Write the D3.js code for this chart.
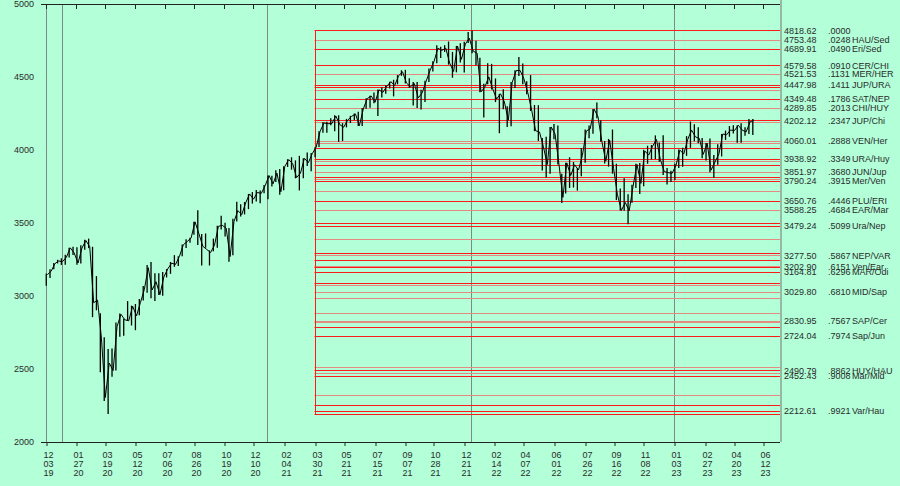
<!DOCTYPE html>
<html><head><meta charset="utf-8">
<script src="https://cdn.jsdelivr.net/npm/d3@7"></script>
<style>
html,body{margin:0;padding:0;background:#b2ffd8;}
svg{display:block;font-family:Arial,"Liberation Sans",sans-serif;}
</style></head><body>
<svg id="chart" width="900" height="486"></svg>
<script>
// ---------- DATA ----------
// weekly S&P 500 (week ending Fridays, 2019-12-06 .. 2023-05-26)
const firstWeek = "2019-12-06", lastWeek = "2023-05-26";
const weekHigh = [
3154,3183,3226,3248,
3258,3282,3330,3338,3334,3347,3385,3393,3337,3136,2882,2718,2637,2641,2818,2880,2844,2965,2934,2945,2980,3068,3212,3233,3155,3155,3165,3184,3233,3280,3272,3352,3388,3399,3509,3588,3425,3428,3312,3393,3482,3550,3502,3466,3529,3646,3628,3644,3699,3712,3726,3723,3760,
3826,3823,3861,3870,3888,3937,3950,3929,3960,3944,3983,3979,4018,4129,4192,4194,4218,4238,4238,4184,4213,4234,4250,4262,4287,4355,4372,4394,4415,4430,4441,4468,4481,4513,4546,4549,4492,4466,4465,4412,4475,4559,4608,4718,4708,4718,4743,4672,4713,4732,4741,4808,
4819,4749,4632,4453,4595,4590,4490,4385,4416,4299,4465,4546,4637,4593,4471,4513,4308,4307,4082,4090,4158,4178,4168,3838,3913,3950,3918,3875,4013,4141,4167,4280,4325,4204,4062,4076,4140,3906,3736,3806,3697,3762,3905,3911,4001,4029,4034,4100,4052,4101,3877,3858,
3906,4003,4015,4095,4195,4176,4156,4082,4048,4079,3965,4040,4110,4133,4164,4170,4170,4184,4155,4213,4213];
const weekLow = [
3070,3124,3183,3223,
3213,3214,3263,3281,3214,3223,3316,3328,2855,2902,2478,2280,2192,2447,2489,2721,2727,2830,2798,2766,2868,2969,3022,2984,2965,3006,3001,3127,3152,3200,3205,3272,3329,3364,3420,3349,3209,3331,3209,3306,3330,3456,3407,3234,3279,3511,3545,3559,3595,3633,3647,3636,3703,
3663,3750,3781,3694,3725,3884,3865,3806,3723,3806,3891,3854,3951,4020,4118,4118,4169,4128,4056,4062,4155,4185,4206,4165,4164,4282,4289,4321,4233,4360,4385,4422,4367,4450,4508,4456,4427,4305,4288,4278,4329,4465,4537,4595,4630,4672,4585,4495,4532,4600,4531,4733,
4662,4582,4395,4223,4451,4415,4328,4115,4279,4157,4162,4425,4507,4450,4381,4267,4129,4062,3859,3811,3838,4074,3900,3637,3702,3740,3743,3722,3820,3913,4080,4111,4218,4057,3907,3886,3838,3657,3585,3584,3492,3638,3740,3698,3751,3906,3936,3938,3919,3828,3764,3780,
3794,3877,3885,3960,4015,4060,4047,3943,3928,3847,3808,3899,3956,4069,4091,4113,4049,4049,4098,4110,4103];
const weekClose = [
3146,3169,3221,3240,
3235,3265,3330,3295,3226,3328,3380,3338,2954,2972,2711,2305,2541,2489,2790,2875,2837,2830,2930,2864,2955,3044,3194,3041,3098,3009,3130,3185,3225,3216,3271,3351,3373,3397,3508,3427,3341,3319,3298,3348,3477,3484,3465,3270,3510,3585,3558,3638,3699,3663,3709,3703,3756,
3825,3768,3841,3714,3887,3934,3907,3811,3842,3943,3913,3975,4020,4129,4185,4180,4181,4233,4174,4156,4204,4230,4247,4167,4281,4352,4370,4327,4412,4395,4437,4468,4442,4509,4535,4459,4433,4455,4357,4391,4471,4545,4605,4697,4682,4698,4595,4538,4712,4621,4726,4766,
4677,4663,4398,4432,4501,4419,4349,4385,4329,4204,4463,4543,4546,4488,4393,4272,4132,4123,4023,3901,4158,4109,3901,3675,3912,3825,3899,3863,3962,4130,4145,4280,4228,4057,3924,4067,3873,3693,3586,3640,3583,3752,3901,3771,3993,3965,4026,4072,3934,3852,3845,3840,
3895,3999,3973,4071,4136,4090,4079,3970,4046,3862,3917,3971,4109,4105,4137,4133,4169,4136,4124,4192,4205];

// x-axis tick dates (every ~37 sessions)
const tickDates = ["2019-12-03","2020-01-27","2020-03-19","2020-05-12","2020-07-06","2020-08-26","2020-10-19","2020-12-10",
"2021-02-04","2021-03-30","2021-05-21","2021-07-15","2021-09-07","2021-10-28","2021-12-21","2022-02-14","2022-04-07",
"2022-06-01","2022-07-26","2022-09-16","2022-11-08","2023-01-03","2023-02-27","2023-04-20","2023-06-12"];
// session counts at calendar anchors (trading-day axis)
const anchorDates = ["2019-12-03","2020-01-02","2021-01-04","2022-01-03","2023-01-03","2023-06-12"];
const anchorSessions = [0,20,273,525,776,886];
// vertical marker lines (data start + year starts)
const markerDates = ["2019-12-03","2020-01-02","2021-01-04","2022-01-03","2023-01-03"];
const yTicks = [2000,2500,3000,3500,4000,4500,5000];

// labelled retracement levels
const levelPrice = [4818.62,4753.48,4689.91,4579.58,4521.53,4447.98,4349.48,4289.85,4202.12,4060.01,3938.92,3851.97,3790.24,3650.76,3588.25,3479.24,3277.50,3202.90,3164.81,3029.80,2830.95,2724.04,2490.79,2452.43,2212.61];
const levelFrac = [".0000",".0248",".0490",".0910",".1131",".1411",".1786",".2013",".2347",".2888",".3349",".3680",".3915",".4446",".4684",".5099",".5867",".6151",".6296",".6810",".7567",".7974",".8862",".9008",".9921"];
const levelName = ["","HAU/Sed","Eri/Sed","CER/CHI","MER/HER","JUP/URA","SAT/NEP","CHI/HUY","JUP/Chi","VEN/Her","URA/Huy","JUN/Jup","Mer/Ven","PLU/ERI","EAR/Mar","Ura/Nep","NEP/VAR","Ven/Ear","MAR/Odi","MID/Sap","SAP/Cer","Sap/Jun","HUY/HAU","Mar/Mid","Var/Hau"];
const levelKind = ["A","B","A","A","B","A","A","B","A","B","A","B","A","A","B","A","B","B","A","B","B","A","A","A","A"];
// unlabelled levels
const extraPrice = [4431.5,4408.9,4193.0,4050.0,4013.7,3924.7,3897.3,3815.0,3801.0,3717.0,3497.0,3392.5,3292.5,3244.5,3196.6,3091.0,3077.0,2986.0,2883.6,2822.0,2785.6,2515.7,2474.7,2324.0,2255.5,2191.86];
const extraKind  = ["A","B","B","B","A","B","A","A","B","B","A","B","A","A","A","A","B","B","B","B","A","B","B","B","A","A"];
const levelStart = "2021-03-30";

// ---------- CHART ----------
const svg = d3.select("#chart");
const parse = d3.timeParse("%Y-%m-%d");
const plotLeft = 41, plotRight = 780, plotTop = 4, plotBottom = 442;
const session = d3.scaleTime().domain(anchorDates.map(parse)).range(anchorSessions);
const xs = d3.scaleLinear().domain([0, 776]).range([45.7, 674.3]);
const x = d => xs(session(d));
const y = d3.scaleLinear().domain([2000, 5000]).range([plotBottom, plotTop]);

const fridays = d3.timeFriday.range(parse(firstWeek), d3.timeDay.offset(parse(lastWeek), 1));
const weeks = fridays.map((f, i) => ({end: f, mid: d3.timeDay.offset(f, -2), h: weekHigh[i], l: weekLow[i], c: weekClose[i]}));

const ink = "#2b2b2b";
const levelColor = k => k === "A" ? "#ff1a1a" : "#e58a80";

// marker vertical lines
svg.append("g").selectAll("line").data(markerDates).join("line")
  .attr("x1", d => Math.round(x(parse(d))) + 0.5).attr("x2", d => Math.round(x(parse(d))) + 0.5)
  .attr("y1", plotTop).attr("y2", plotBottom)
  .attr("stroke", "#7d8a83").attr("stroke-width", 1);

// right boundary
svg.append("line").attr("x1", plotRight + 1).attr("x2", plotRight + 1)
  .attr("y1", 0).attr("y2", plotBottom).attr("stroke", "#8fa89a").attr("stroke-width", 1.6);

// levels
const x0 = x(parse(levelStart));
const allLevels = extraPrice.map((p, i) => ({p, k: extraKind[i]}))
  .concat(levelPrice.map((p, i) => ({p, k: levelKind[i]})));
allLevels.sort((a, b) => (a.k === "B" ? 0 : 1) - (b.k === "B" ? 0 : 1));
svg.append("g").selectAll("line").data(allLevels).join("line")
  .attr("x1", x0).attr("x2", plotRight)
  .attr("y1", d => Math.round(y(d.p)) + 0.5).attr("y2", d => Math.round(y(d.p)) + 0.5)
  .attr("stroke", d => levelColor(d.k)).attr("stroke-width", 1.2);
svg.append("line").attr("x1", Math.round(x0) + 0.5).attr("x2", Math.round(x0) + 0.5)
  .attr("y1", Math.round(y(d3.max(levelPrice))) + 0.5).attr("y2", Math.round(y(d3.min(extraPrice))) + 0.5)
  .attr("stroke", "#ff1a1a").attr("stroke-width", 1);

// price: weekly high-low bars + close line
svg.append("g").selectAll("line").data(weeks).join("line")
  .attr("x1", d => x(d.mid)).attr("x2", d => x(d.mid))
  .attr("y1", d => y(d.h)).attr("y2", d => y(d.l))
  .attr("stroke", "#000").attr("stroke-width", 1.3);
svg.append("path").datum(weeks)
  .attr("d", d3.line().x(d => x(d.end)).y(d => y(d.c)))
  .attr("fill", "none").attr("stroke", "#000").attr("stroke-width", 1);

// axes lines
svg.append("line").attr("x1", plotLeft).attr("x2", plotRight).attr("y1", plotTop + 0.5).attr("y2", plotTop + 0.5).attr("stroke", "#222");
svg.append("line").attr("x1", plotLeft).attr("x2", plotRight).attr("y1", plotBottom + 0.5).attr("y2", plotBottom + 0.5).attr("stroke", "#222");

const ticks = tickDates.map(parse);
// top ticks (inward)
svg.append("g").selectAll("line").data(ticks).join("line")
  .attr("x1", d => Math.round(x(d)) + 0.5).attr("x2", d => Math.round(x(d)) + 0.5)
  .attr("y1", plotTop).attr("y2", plotTop + 5).attr("stroke", "#222");
// bottom axis
const fmt = [d3.timeFormat("%m"), d3.timeFormat("%d"), d3.timeFormat("%y")];
const bottom = svg.append("g").attr("transform", `translate(0,${plotBottom})`)
  .call(d3.axisBottom(d3.scaleIdentity()).tickValues(ticks.map(t => Math.round(x(t)) + 0.5)).tickSize(4).tickFormat(""));
bottom.select(".domain").remove();
bottom.selectAll(".tick line").attr("stroke", "#222");
bottom.selectAll(".tick").each(function(v, i) {
  const t = d3.select(this).append("text").attr("fill", ink).attr("font-size", 9).attr("text-anchor", "middle");
  fmt.forEach((f, r) => t.append("tspan").attr("x", 1.5).attr("y", 15.5 + r * 9).text(f(ticks[i])));
});

// y labels
const yAxis = svg.append("g").attr("transform", `translate(34,0)`)
  .call(d3.axisLeft(y).tickValues(yTicks).tickSize(0).tickPadding(0).tickFormat(d3.format("d")));
yAxis.select(".domain").remove();
yAxis.selectAll("text").attr("fill", ink).attr("font-size", 9).attr("font-family", "Arial, 'Liberation Sans', sans-serif");

// level labels
const lab = svg.append("g").attr("fill", ink).attr("font-size", 9);
levelPrice.forEach((p, i) => {
  const yy = y(p) + 3.2;
  lab.append("text").attr("x", 784).attr("y", yy).text(p.toFixed(2));
  lab.append("text").attr("x", 828).attr("y", yy).text(levelFrac[i]);
  lab.append("text").attr("x", 852).attr("y", yy).text(levelName[i]);
});
</script>
</body></html>
